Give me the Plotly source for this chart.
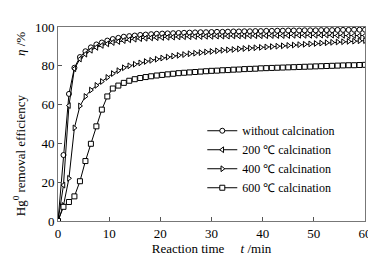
import plotly.graph_objects as go

time_min = [0, 1.07, 2.14, 3.21, 4.29, 5.36, 6.43, 7.5, 8.57, 9.64, 10.71, 11.79, 12.86, 13.93,
            15.0, 16.07, 17.14, 18.21, 19.29, 20.36, 21.43, 22.5, 23.57, 24.64, 25.71, 26.79,
            27.86, 28.93, 30.0, 31.07, 32.14, 33.21, 34.29, 35.36, 36.43, 37.5, 38.57, 39.64,
            40.71, 41.79, 42.86, 43.93, 45.0, 46.07, 47.14, 48.21, 49.29, 50.36, 51.43, 52.5,
            53.57, 54.64, 55.71, 56.79, 57.86, 58.93, 60.0]

without_calc = [0, 34, 65.5, 79, 84.5, 87.5, 89.5, 91, 92, 93, 93.8, 94.4, 95, 95.3, 95.6, 95.9,
                96.1, 96.3, 96.5, 96.6, 96.7, 96.8, 96.9, 97, 97.1, 97.2, 97.3, 97.3, 97.4, 97.5,
                97.5, 97.6, 97.7, 97.7, 97.8, 97.8, 97.9, 97.9, 98, 98, 98.1, 98.1, 98.2, 98.2,
                98.2, 98.3, 98.3, 98.3, 98.4, 98.4, 98.4, 98.5, 98.5, 98.5, 98.6, 98.6, 98.6]

calc_200 = [0, 18.5, 59.5, 78.5, 83.5, 86, 88, 89.5, 90.5, 91.3, 92, 92.5, 93, 93.4, 93.7, 94,
            94.2, 94.4, 94.5, 94.6, 94.7, 94.8, 94.9, 95, 95, 95.1, 95.1, 95.2, 95.2, 95.3, 95.3,
            95.3, 95.4, 95.4, 95.4, 95.5, 95.5, 95.5, 95.5, 95.6, 95.6, 95.6, 95.6, 95.7, 95.7,
            95.7, 95.7, 95.7, 95.8, 95.8, 95.8, 95.6, 95.7, 95.5, 95.6, 95.5, 95.6]

calc_400 = [0, 8, 22, 48, 59.3, 64.2, 67.5, 69.9, 71.9, 74, 76, 77.5, 79, 80, 80.8, 81.5, 82.2,
            82.8, 83.4, 84, 84.5, 85, 85.4, 85.8, 86.2, 86.5, 86.8, 87.1, 87.4, 87.7, 88, 88.2,
            88.4, 88.7, 88.9, 89.1, 89.3, 89.5, 89.7, 89.9, 90.1, 90.3, 90.5, 90.7, 90.9, 91.1,
            91.3, 91.5, 91.7, 91.9, 92.1, 92.3, 92.4, 92.6, 92.7, 92.9, 93]

calc_600 = [0, 7.3, 9.8, 12.7, 20.5, 30.9, 39.8, 48.8, 57.4, 64.2, 68.3, 69.8, 71.2, 72.3, 73.1,
            73.7, 74.2, 74.6, 75, 75.3, 75.6, 75.9, 76.2, 76.4, 76.6, 76.8, 77, 77.2, 77.4, 77.5,
            77.7, 77.8, 78, 78.1, 78.3, 78.4, 78.5, 78.7, 78.8, 78.9, 79, 79.1, 79.2, 79.3, 79.4,
            79.5, 79.6, 79.7, 79.8, 79.9, 80, 80.1, 80.2, 80.3, 80.3, 80.4, 80.5]

series_names = ["without calcination", "200 ℃ calcination", "400 ℃ calcination", "600 ℃ calcination"]
series_values = [without_calc, calc_200, calc_400, calc_600]
symbols = ["circle", "triangle-left", "triangle-right", "square"]

x_ticks = [0, 10, 20, 30, 40, 50, 60]
y_ticks = [0, 20, 40, 60, 80, 100]

FONT = "Liberation Serif"

fig = go.Figure()
for name, vals, sym in zip(series_names, series_values, symbols):
    fig.add_trace(go.Scatter(
        x=time_min, y=vals, name=name, mode="lines+markers",
        line=dict(color="black", width=1),
        marker=dict(symbol=sym, size=5, color="white",
                    line=dict(color="black", width=1)),
    ))

axis_common = dict(showline=True, linecolor="#777", linewidth=1, mirror=True,
                   ticks="inside", ticklen=4, tickcolor="#555", showgrid=False,
                   zeroline=False, tickfont=dict(family=FONT, size=13, color="black"))

fig.update_xaxes(range=[0, 60], tickvals=x_ticks,
                 title=dict(text="Reaction time     <i>t</i> /min",
                            font=dict(family=FONT, size=13, color="black"), standoff=4),
                 **axis_common)
fig.update_yaxes(range=[0, 100], tickvals=y_ticks,
                 title=dict(text="Hg<sup>0</sup> removal efficiency            <i>η</i> /%",
                            font=dict(family=FONT, size=13, color="black"), standoff=6),
                 **axis_common)

fig.update_layout(
    width=376, height=258,
    margin=dict(l=48, r=13, t=15, b=38),
    paper_bgcolor="white", plot_bgcolor="white",
    font=dict(family=FONT, color="black"),
    legend=dict(x=0.47, y=0.54, xanchor="left", yanchor="top",
                bgcolor="rgba(0,0,0,0)", font=dict(family=FONT, size=12, color="black"),
                itemwidth=30, tracegroupgap=0),
    showlegend=True,
)

fig.write_html("out.html")
